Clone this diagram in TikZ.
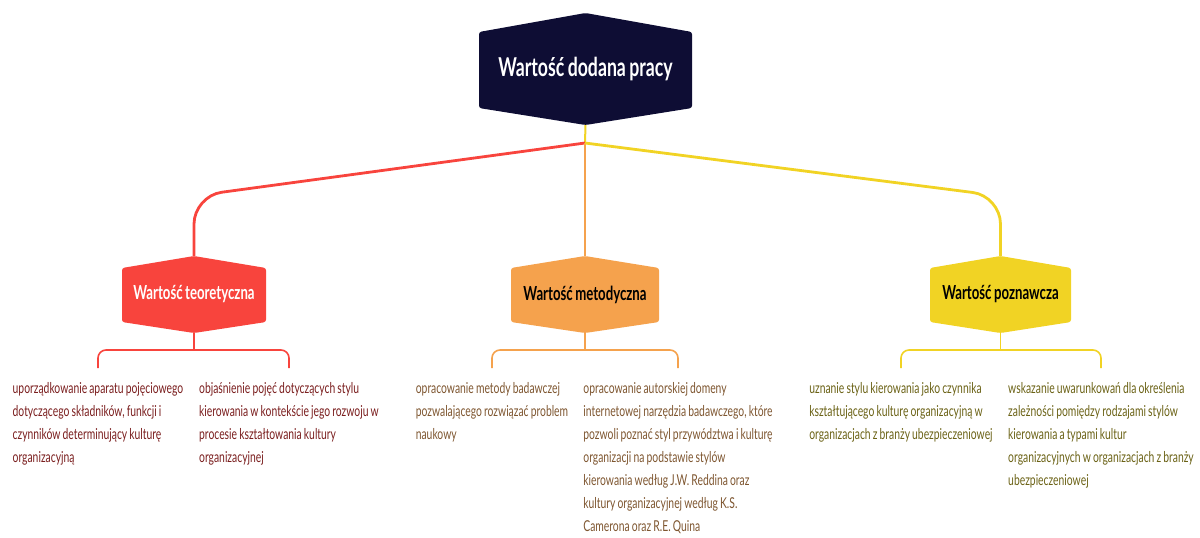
\documentclass[tikz,border=0pt]{standalone}
\usepackage{fontspec}
\setmainfont{Lato}[FakeStretch=0.69, WordSpace=0.8]
\newfontfamily\titlefont{Lato}[FakeStretch=0.68, WordSpace=0.8]
\definecolor{navy}{HTML}{0E0D34}
\definecolor{cred}{HTML}{F8443D}
\definecolor{corange}{HTML}{F5A24D}
\definecolor{cyellow}{HTML}{F1D324}
\definecolor{tred}{HTML}{7A1E1E}
\definecolor{torange}{HTML}{7E5630}
\definecolor{tyellow}{HTML}{6B6216}
\tikzset{
  hexbox/.style={inner sep=0pt, outer sep=0pt, align=center},
  hexshape/.style n args={3}{path picture={\fill[#1, rounded corners=1.2pt]
    (path picture bounding box.north) -- ([yshift=-#2]path picture bounding box.north east)
    -- ([yshift=#3]path picture bounding box.south east) -- (path picture bounding box.south)
    -- ([yshift=#3]path picture bounding box.south west) -- ([yshift=-#2]path picture bounding box.north west) -- cycle;}},
  subtitle/.style={font=\titlefont\bfseries\fontsize{9.7}{12}\selectfont, minimum height=38.5pt},
  leaf/.style={inner sep=0pt, outer ysep=7pt, anchor=north, align=left, font=\fontsize{7.5}{11.5}\selectfont},
  branch/.style={line width=1.4pt, rounded corners=14pt},
  stem/.style={line width=0.8pt},
  bracket/.style={line width=0.8pt, rounded corners=4pt},
}
\begin{document}
\begin{tikzpicture}[x=0.5pt,y=-0.5pt]
\useasboundingbox (0,0) rectangle (1200,537);

\node[hexbox, hexshape={navy}{9.5pt}{8.5pt}, minimum width=106.5pt, minimum height=56pt,
  text=white, font=\titlefont\bfseries\fontsize{13}{15}\selectfont] (root) at (585.5,69) {Wartość dodana pracy};

\node[hexbox, subtitle, hexshape={cred}{6pt}{5.5pt}, minimum width=72pt, text=white] (teo) at (194,294.5) {Wartość teoretyczna};
\node[hexbox, subtitle, hexshape={corange}{6pt}{5.5pt}, minimum width=74pt, text=black] (met) at (585,294.5) {Wartość metodyczna};
\node[hexbox, subtitle, hexshape={cyellow}{6pt}{5.5pt}, minimum width=70.5pt, text=black] (poz) at (1000.5,294.5) {Wartość poznawcza};

\coordinate (j) at (585,143);
\draw[cyellow, stem, line width=1pt] (root.south) -- (j);
\draw[cred, branch] (j) -- (194,196) -- (teo.north);
\draw[corange, stem] (j) -- (met.north);
\draw[cyellow, branch] (j) -- (1000.5,196) -- (poz.north);

% leaves
\node[leaf, text=tred] (t1) at (98,368) {uporządkowanie aparatu pojęciowego\\dotyczącego składników, funkcji i\\czynników determinujący kulturę\\organizacyjną};
\node[leaf, text=tred] (t2) at (289,368) {objaśnienie pojęć dotyczących stylu\\kierowania w kontekście jego rozwoju w\\procesie kształtowania kultury\\organizacyjnej};
\node[leaf, text=torange] (m1) at (492,368) {opracowanie metody badawczej\\pozwalającego rozwiązać problem\\naukowy};
\node[leaf, text=torange] (m2) at (678,368) {opracowanie autorskiej domeny\\internetowej narzędzia badawczego, które\\pozwoli poznać styl przywództwa i kulturę\\organizacji na podstawie stylów\\kierowania według J.W. Reddina oraz\\kultury organizacyjnej według K.S.\\Camerona oraz R.E. Quina};
\node[leaf, text=tyellow] (p1) at (901,368) {uznanie stylu kierowania jako czynnika\\kształtującego kulturę organizacyjną w\\organizacjach z branży ubezpieczeniowej};
\node[leaf, text=tyellow] (p2) at (1101,368) {wskazanie uwarunkowań dla określenia\\zależności pomiędzy rodzajami stylów\\kierowania a typami kultur\\organizacyjnych w organizacjach z branży\\ubezpieczeniowej};

\coordinate (bt) at (194,350);
\coordinate (bm) at (585,350);
\coordinate (bp) at (1000.5,350);
\draw[cred, stem] (teo.south) -- (bt);
\draw[cred, bracket] (t1.north) -- (t1.north |- bt) -- (t2.north |- bt) -- (t2.north);
\draw[corange, stem] (met.south) -- (bm);
\draw[corange, bracket] (m1.north) -- (m1.north |- bm) -- (m2.north |- bm) -- (m2.north);
\draw[cyellow, stem] (poz.south) -- (bp);
\draw[cyellow, bracket] (p1.north) -- (p1.north |- bp) -- (p2.north |- bp) -- (p2.north);
\end{tikzpicture}
\end{document}
